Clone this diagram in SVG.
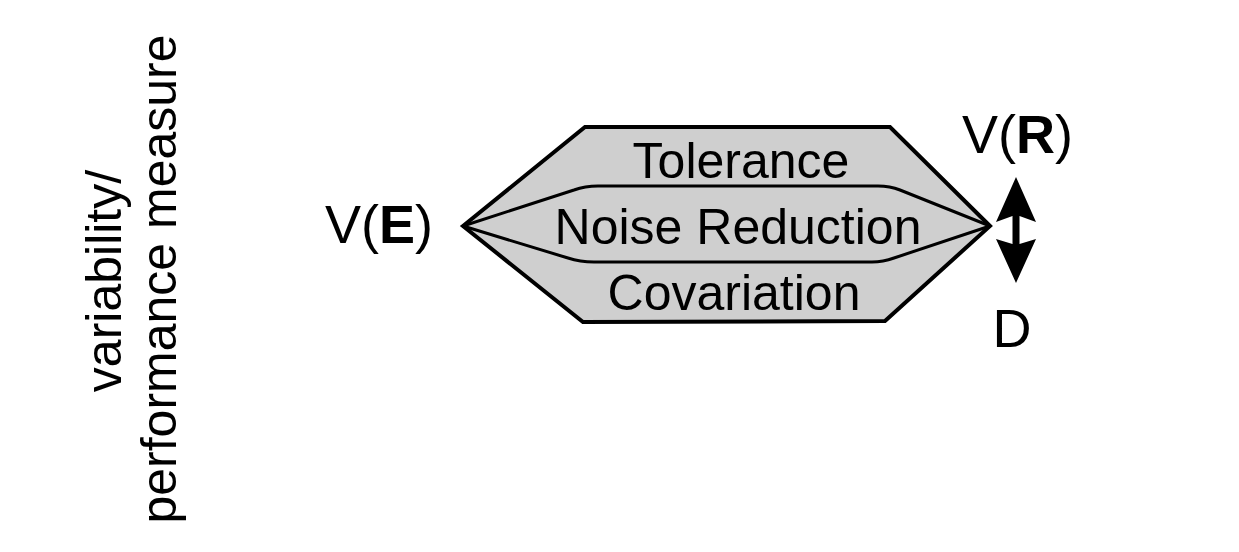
<svg xmlns="http://www.w3.org/2000/svg" width="1239" height="552" viewBox="0 0 1239 552">
<style>
.t{font-family:"Liberation Sans",Arial,sans-serif;fill:#000}
.lbl{font-size:50px;text-anchor:middle}
.big{font-size:54px}
.band{fill:none;stroke:#000;stroke-width:3}
</style>
<rect width="1239" height="552" fill="#fff"/>
<g id="axis-label">
<text class="t lbl" transform="translate(121,281) rotate(-90)">variability/</text>
<text class="t lbl" transform="translate(176,279) rotate(-90)">performance measure</text>
</g>
<g id="hexagon">
<path d="M463,226 L585,127 L890,127 L990,226 L885,321 L583,322 Z" fill="#cfcfcf" stroke="#000" stroke-width="4" stroke-linejoin="miter"/>
<path class="band" d="M463,226 L574,190 Q585,186 598,186 L878,186 Q890,186 900,190 L990,226"/>
<path class="band" d="M463,226 L568,258 Q580,262 594,262 L872,262 Q883,262 894,258 L990,226"/>
</g>
<g id="tolerance"><text class="t lbl" x="741" y="178">Tolerance</text></g>
<g id="noise-reduction"><text class="t lbl" x="738" y="244">Noise Reduction</text></g>
<g id="covariation"><text class="t lbl" x="734" y="310">Covariation</text></g>
<g id="VE"><text class="t big" x="325" y="243">V(<tspan font-weight="bold">E</tspan>)</text></g>
<g id="VR"><text class="t big" x="962" y="153">V(<tspan font-weight="bold">R</tspan>)</text></g>
<g id="D"><text class="t big" x="1012" y="347" text-anchor="middle">D</text></g>
<g id="connectors">
<path d="M1016,177 L1036,222 L1019.5,216 L1019.5,244 L1036,239 L1016,283 L996,239 L1012.5,244 L1012.5,216 L996,222 Z" fill="#000"/>
</g>
</svg>
